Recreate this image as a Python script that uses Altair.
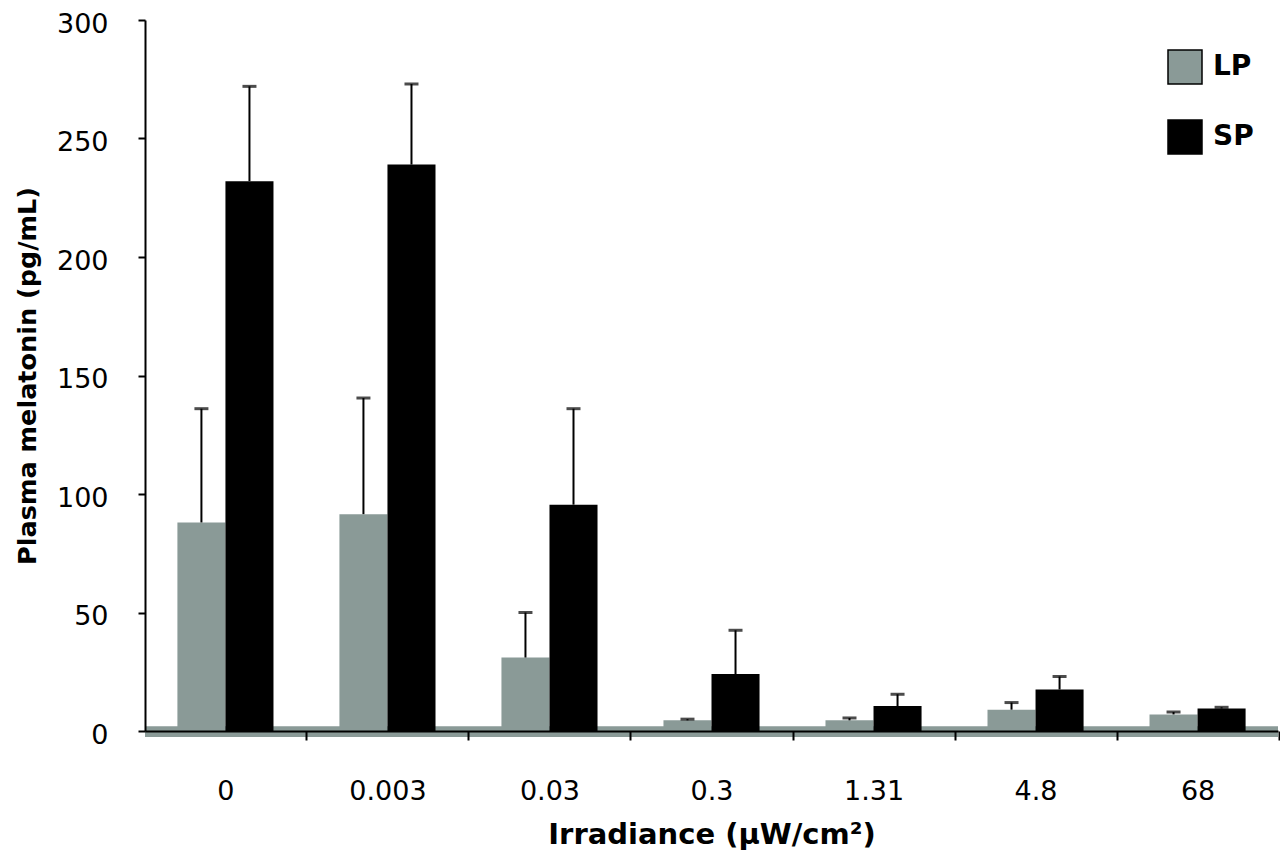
import altair as alt
import pandas as pd

categories = ["0", "0.003", "0.03", "0.3", "1.31", "4.8", "68"]
lp_values = [88, 91.5, 31, 4.5, 4.5, 9, 7]
lp_errors = [48, 49, 19, 0.5, 1, 3, 1]
sp_values = [232, 239, 95.5, 24, 10.5, 17.5, 9.5]
sp_errors = [40, 34, 40.5, 18.5, 5, 5.5, 0.5]
series = ["LP", "SP"]
colors = ["#8A9A97", "#000000"]

rows = []
for i, c in enumerate(categories):
    rows.append({"cat": c, "series": "LP", "value": lp_values[i], "upper": lp_values[i] + lp_errors[i]})
    rows.append({"cat": c, "series": "SP", "value": sp_values[i], "upper": sp_values[i] + sp_errors[i]})
df = pd.DataFrame(rows)

W, H = 1133, 711
FONT = "DejaVu Sans"
STEP_HALF = 81

x_enc = alt.X("cat:N", sort=categories,
              scale=alt.Scale(paddingInner=0.407, paddingOuter=0.2),
              axis=alt.Axis(title="Irradiance (µW/cm²)", labelAngle=0,
                            tickOffset=STEP_HALF, labelOffset=-STEP_HALF,
                            labelFontSize=27, labelFont=FONT, labelColor="black",
                            labelPadding=38, tickSize=9, tickWidth=2, tickColor="black",
                            domainColor="black", domainWidth=2,
                            titleFontSize=29, titleFont=FONT, titleFontWeight="bold",
                            titleColor="black", titlePadding=16, zindex=1))
xoff = alt.XOffset("series:N", sort=series, scale=alt.Scale(paddingInner=0, paddingOuter=0))
y_enc = alt.Y("value:Q", scale=alt.Scale(domain=[0, 300], nice=False),
              axis=alt.Axis(title="Plasma melatonin (pg/mL)", values=[0, 50, 100, 150, 200, 250, 300],
                            grid=False, labelFontSize=27, labelFont=FONT, labelColor="black",
                            labelPadding=30, labelOffset=4, tickSize=7, tickWidth=2, tickColor="black",
                            domainColor="black", domainWidth=2,
                            titleFontSize=25.5, titleFont=FONT, titleFontWeight="bold",
                            titleColor="black", titlePadding=16, zindex=1))

floor = alt.Chart(pd.DataFrame({"a": [0]})).mark_rect(color="#8A9A97").encode(
    x=alt.value(0), x2=alt.value(W),
    y=alt.Y(datum=2, type="quantitative"), y2=alt.Y2(datum=-2.5)
)

bars = alt.Chart(df).mark_bar().encode(
    x=x_enc, xOffset=xoff, y=y_enc,
    color=alt.Color("series:N", sort=series,
                    scale=alt.Scale(domain=series, range=colors),
                    legend=alt.Legend(title=None, orient="none", legendX=1022, legendY=29,
                                      symbolType="square", symbolSize=1156,
                                      symbolStrokeColor="black", symbolStrokeWidth=1.5,
                                      symbolOpacity=1,
                                      labelFontSize=28, labelFont=FONT, labelFontWeight="bold",
                                      labelColor="black", labelOffset=10, rowPadding=30))
)

stems = alt.Chart(df).mark_rule(color="black", strokeWidth=2).encode(
    x=alt.X("cat:N", sort=categories), xOffset=xoff,
    y="value:Q", y2="upper:Q"
)
caps = alt.Chart(df).mark_tick(color="black", thickness=3, size=14, orient="horizontal").encode(
    x=alt.X("cat:N", sort=categories), xOffset=xoff,
    y="upper:Q"
)

chart = alt.layer(floor, bars, stems, caps).properties(
    width=W, height=H,
    autosize=alt.AutoSizeParams(type="none"),
    padding={"left": 137, "top": 12, "right": 2, "bottom": 124}
).configure_view(stroke=None)

chart.save("out.html", embed_options={"renderer": "svg", "actions": False})
